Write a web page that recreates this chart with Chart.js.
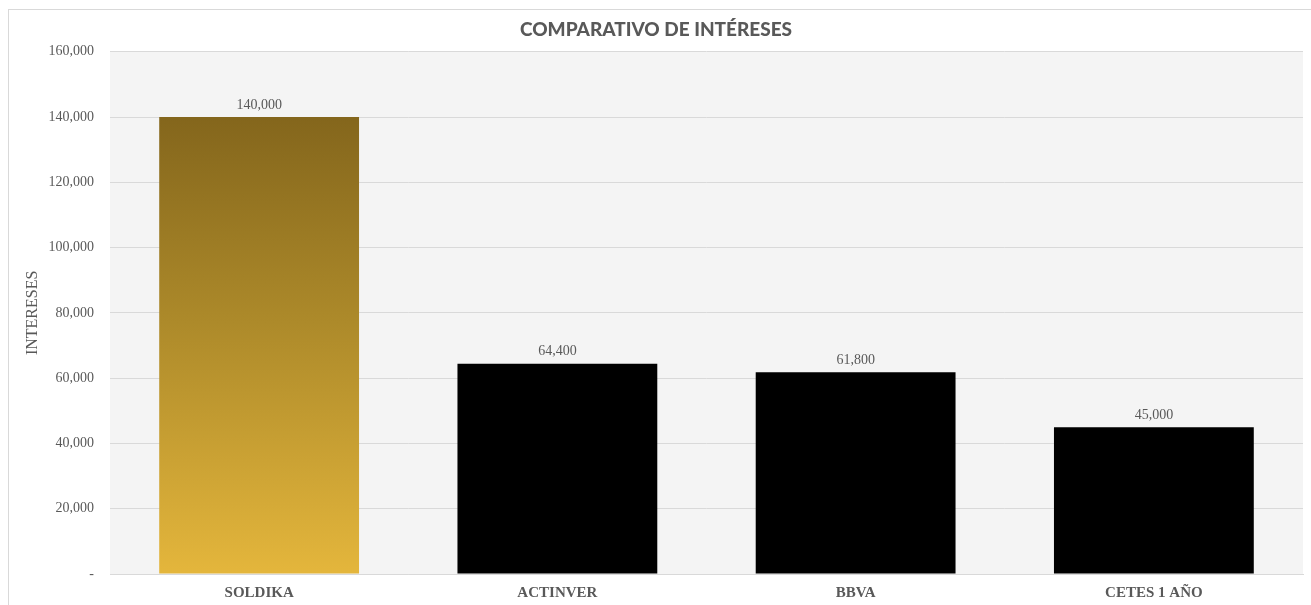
<!DOCTYPE html>
<html>
<head>
<meta charset="utf-8">
<script src="https://cdn.jsdelivr.net/npm/chart.js@4"></script>
<style>
  body { margin: 0; background: #fff; }
  #wrap { position: absolute; left: 8px; top: 9px; width: 1310px; height: 600px; border: 1px solid #d9d9d9; box-sizing: border-box; }
</style>
</head>
<body>
<div id="wrap"><canvas id="chart"></canvas></div>
<script>
// Chart data
const categories = ["SOLDIKA", "ACTINVER", "BBVA", "CETES 1 AÑO"];
const intereses = [140000, 64400, 61800, 45000];
const yTicks = [0, 20000, 40000, 60000, 80000, 100000, 120000, 140000, 160000];

const fmt = v => v === 0 ? "-" : v.toLocaleString("en-US");

// light gray plot background
const plotBg = {
  id: "plotBg",
  beforeDraw(chart) {
    const a = chart.chartArea, c = chart.ctx;
    c.save();
    c.fillStyle = "#f4f4f4";
    c.fillRect(a.left, a.top, a.right - a.left, a.bottom - a.top);
    c.restore();
  }
};

// value labels above bars
const barLabels = {
  id: "barLabels",
  afterDatasetsDraw(chart) {
    const c = chart.ctx;
    c.save();
    c.font = "14px 'Liberation Serif'";
    c.fillStyle = "#595959";
    c.textAlign = "center";
    c.textBaseline = "bottom";
    chart.getDatasetMeta(0).data.forEach((bar, i) => {
      c.fillText(fmt(intereses[i]), bar.x, bar.y - 5);
    });
    c.restore();
  }
};

function goldFill(context) {
  const chart = context.chart;
  const a = chart.chartArea;
  if (!a) return "#b8922c";
  const y = chart.scales.y;
  const g = chart.ctx.createLinearGradient(0, y.getPixelForValue(intereses[0]), 0, a.bottom);
  g.addColorStop(0, "#84661c");
  g.addColorStop(0.45, "#ad8a2a");
  g.addColorStop(1, "#e4b63c");
  return g;
}

document.addEventListener("DOMContentLoaded", () => {
  const ctx = document.getElementById("chart").getContext("2d");
  new Chart(ctx, {
    type: "bar",
    data: {
      labels: categories,
      datasets: [{
        label: "Intereses",
        data: intereses,
        backgroundColor: c => c.dataIndex === 0 ? goldFill(c) : "#000000",
        categoryPercentage: 1,
        barPercentage: 0.67
      }]
    },
    options: {
      responsive: true,
      maintainAspectRatio: false,
      animation: false,
      layout: { padding: { left: 0, right: 14, top: 0, bottom: 4 } },
      plugins: {
        legend: { display: false },
        tooltip: { enabled: false },
        title: {
          display: true,
          text: "COMPARATIVO DE INTÉRESES",
          color: "#595959",
          font: { family: "Lato", size: 19, weight: "900" },
          padding: { top: 8, bottom: 11 }
        }
      },
      scales: {
        x: {
          grid: { display: false },
          border: { color: "#d9d9d9", width: 1 },
          ticks: {
            color: "#595959",
            font: { family: "Liberation Serif", size: 15, weight: "bold" },
            padding: 2
          }
        },
        y: {
          min: 0,
          max: 160000,
          afterBuildTicks: s => { s.ticks = yTicks.map(v => ({ value: v })); },
          afterFit: s => { s.width = 101; },
          grid: { color: "#d9d9d9", drawTicks: false },
          border: { display: false },
          ticks: {
            color: "#595959",
            font: { family: "Liberation Serif", size: 14 },
            padding: 16,
            callback: v => fmt(v)
          },
          title: {
            display: true,
            text: "INTERESES",
            color: "#595959",
            font: { family: "Liberation Serif", size: 16 },
            padding: { top: 14, bottom: 0 }
          }
        }
      }
    },
    plugins: [plotBg, barLabels]
  });
});
</script>
</body>
</html>
